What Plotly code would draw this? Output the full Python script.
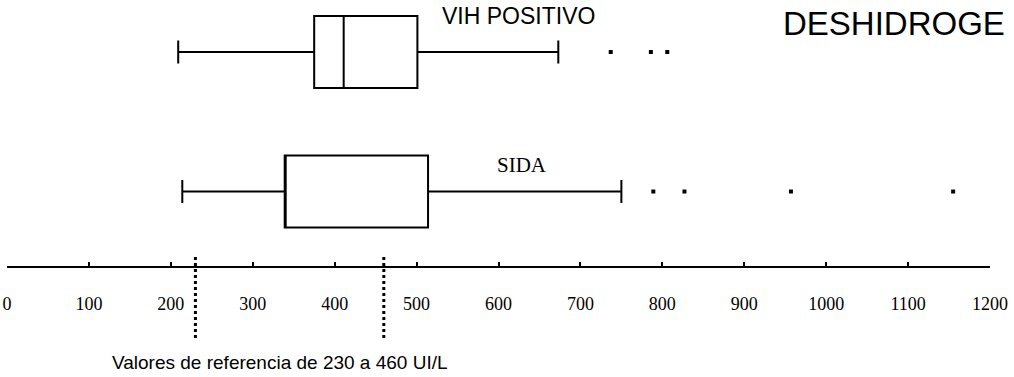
import plotly.graph_objects as go

# ---- data ----
groups = ["VIH POSITIVO", "SIDA"]
positions = [1, 0]
lower_fence = [209, 214]
q1 = [375, 339]
median = [411, 339]
q3 = [501, 514]
upper_fence = [673, 750]
outliers_vih = [737, 786, 806]
outliers_sida = [789, 827, 957, 1155]
ref_low, ref_high = 230, 460
tick_vals = [0, 100, 200, 300, 400, 500, 600, 700, 800, 900, 1000, 1100, 1200]
tick_text = ["0", "100", "200", "300", "400", "500", "600", "700", "800", "900", "1000", "1100", "1200"]

fig = go.Figure()

for i in range(len(groups)):
    fig.add_trace(go.Box(
        y=[positions[i]], q1=[q1[i]], median=[median[i]], q3=[q3[i]],
        lowerfence=[lower_fence[i]], upperfence=[upper_fence[i]],
        orientation="h", width=0.516, whiskerwidth=0.32,
        line=dict(color="black", width=2), fillcolor="rgba(255,255,255,0)",
        boxpoints=False, showlegend=False, name=groups[i],
    ))

fig.add_trace(go.Scatter(
    x=outliers_vih, y=[positions[0]] * len(outliers_vih), mode="markers",
    marker=dict(symbol="square", size=4, color="black"), showlegend=False,
))
fig.add_trace(go.Scatter(
    x=outliers_sida, y=[positions[1]] * len(outliers_sida), mode="markers",
    marker=dict(symbol="square", size=4, color="black"), showlegend=False,
))

for v in (ref_low, ref_high):
    fig.add_shape(type="line", xref="x", yref="paper", x0=v, x1=v,
                  y0=-0.2707, y1=0.0338,
                  line=dict(color="black", width=3, dash="dot"))

fig.add_annotation(text="VIH POSITIVO", xref="paper", yref="paper", x=0.4405, y=0.9417,
                   xanchor="left", yanchor="middle", showarrow=False,
                   font=dict(family="Liberation Sans, Arial", size=23, color="black"))
fig.add_annotation(text="SIDA", xref="paper", yref="paper", x=0.4964, y=0.3797,
                   xanchor="left", yanchor="middle", showarrow=False,
                   font=dict(family="Liberation Serif, Times New Roman", size=21, color="black"))
fig.add_annotation(text="DESHIDROGE", xref="paper", yref="paper", x=0.7874, y=0.9098,
                   xanchor="left", yanchor="middle", showarrow=False,
                   font=dict(family="Liberation Sans, Arial", size=33, color="black"))
fig.add_annotation(text="Valores de referencia de 230 a 460 UI/L", xref="paper", yref="paper",
                   x=(110 - 7) / 983, y=-0.361, xanchor="left", yanchor="middle", showarrow=False,
                   font=dict(family="Liberation Sans, Arial", size=19, color="black"))

fig.update_xaxes(range=[0, 1200], tickvals=tick_vals, ticktext=tick_text,
                 showline=True, linecolor="black", linewidth=1.5,
                 ticks="inside", ticklen=4, tickwidth=1.5, tickcolor="black",
                 showgrid=False, zeroline=False, ticklabelstandoff=21,
                 tickfont=dict(family="Liberation Serif, Times New Roman", size=18, color="black"))
fig.update_yaxes(range=[-0.534, 1.373], visible=False, showgrid=False, zeroline=False)

fig.update_layout(width=1014, height=377, margin=dict(l=7, r=24, t=0, b=111),
                  plot_bgcolor="white", paper_bgcolor="white")

fig.write_html("out.html", config={"displayModeBar": False},
               post_script="document.body.style.margin='0';")
